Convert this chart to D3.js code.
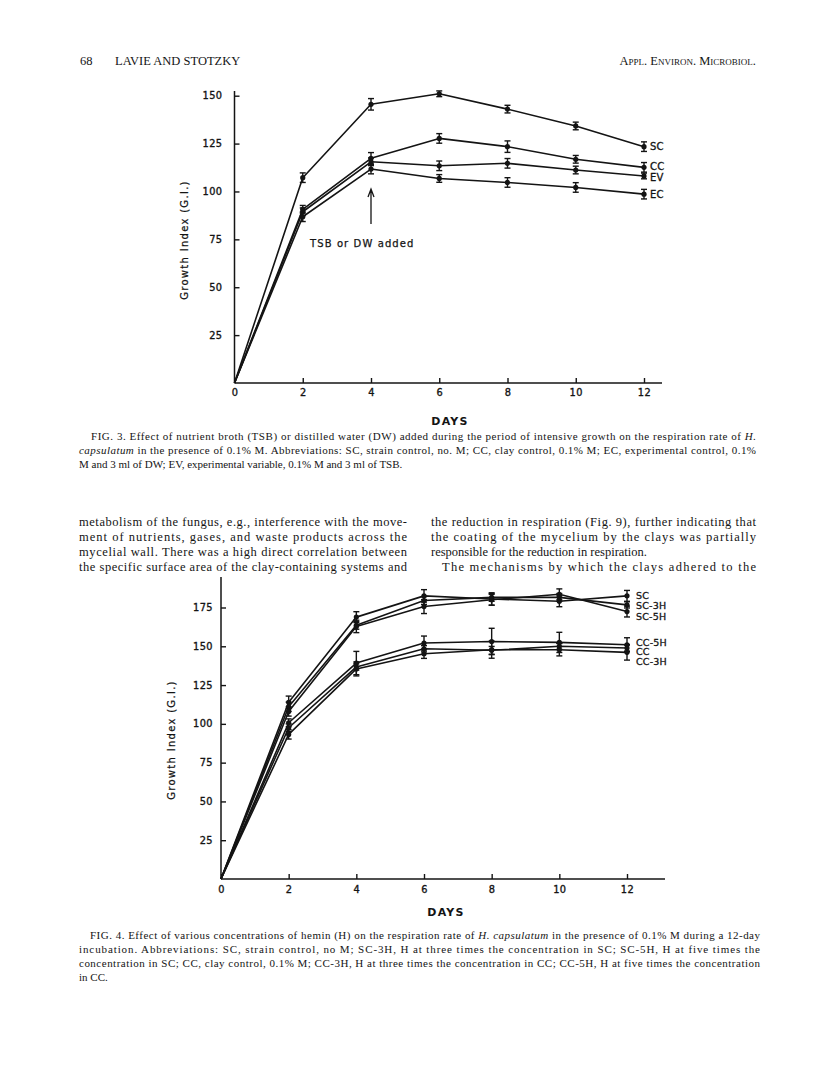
<!DOCTYPE html>
<html><head><meta charset="utf-8">
<script src="https://cdn.jsdelivr.net/npm/d3@7"></script>
<style>body{margin:0;background:#fff}svg{display:block}</style>
</head><body>
<svg id="page" width="816" height="1077"></svg>
<script>
// ---------- DATA ----------
const days = [0, 2, 4, 6, 8, 10, 12];
const xTickLabels = ["0", "2", "4", "6", "8", "10", "12"];

// Fig. 3
const fig3Names = ["SC", "CC", "EV", "EC"];
const fig3_SC = [0, 107.2, 145.5, 151.0, 143.0, 134.2, 123.4];
const fig3_CC = [0, 90.7, 117.3, 127.7, 123.4, 116.8, 112.6];
const fig3_EV = [0, 89.4, 115.5, 113.4, 114.7, 111.2, 108.1];
const fig3_EC = [0, 86.8, 111.7, 106.8, 104.7, 102.1, 98.6];
const fig3_SC_err = [0, 2.5, 3.0, 1.5, 2.0, 2.0, 2.5];
const fig3_CC_err = [0, 2.0, 3.0, 2.5, 3.0, 2.0, 2.5];
const fig3_EV_err = [0, 2.0, 2.0, 2.5, 2.5, 2.0, 1.5];
const fig3_EC_err = [0, 2.5, 2.5, 2.0, 2.5, 2.5, 2.5];
const fig3YTicks = [25, 50, 75, 100, 125, 150];

// Fig. 4
const fig4Names = ["SC", "SC-3H", "SC-5H", "CC-5H", "CC", "CC-3H"];
const fig4_SC   = [0, 113.9, 168.8, 182.5, 180.5, 179.0, 182.5];
const fig4_SC3H = [0, 111.0, 163.5, 179.5, 181.5, 181.5, 176.7];
const fig4_SC5H = [0, 108.0, 162.8, 175.6, 180.0, 183.5, 172.4];
const fig4_CC5H = [0, 100.7, 139.2, 152.1, 153.1, 152.5, 151.0];
const fig4_CC   = [0, 97.5, 136.7, 148.4, 147.4, 150.0, 148.9];
const fig4_CC3H = [0, 93.2, 135.4, 145.2, 147.8, 147.8, 146.1];
const fig4_SC_err   = [0, 4.0, 3.5, 4.0, 4.0, 3.5, 3.5];
const fig4_SC3H_err = [0, 3.0, 2.5, 2.5, 2.5, 2.5, 2.0];
const fig4_SC5H_err = [0, 3.0, 4.0, 4.5, 3.5, 3.5, 3.5];
const fig4_CC5H_err = [0, 2.5, 7.5, 4.5, 8.5, 6.5, 4.5];
const fig4_CC_err   = [0, 2.5, 2.0, 2.0, 2.5, 2.0, 2.0];
const fig4_CC3H_err = [0, 3.0, 4.5, 3.0, 5.5, 4.0, 5.0];
const fig4YTicks = [25, 50, 75, 100, 125, 150, 175];

// ---------- LAYOUT ----------
const svg = d3.select("#page");
const INK = "#141414";
const fig3Series = [
  {name: "SC", v: fig3_SC, e: fig3_SC_err},
  {name: "CC", v: fig3_CC, e: fig3_CC_err},
  {name: "EV", v: fig3_EV, e: fig3_EV_err},
  {name: "EC", v: fig3_EC, e: fig3_EC_err}];
const fig4Series = [
  {name: "SC", v: fig4_SC, e: fig4_SC_err},
  {name: "SC-3H", v: fig4_SC3H, e: fig4_SC3H_err},
  {name: "SC-5H", v: fig4_SC5H, e: fig4_SC5H_err},
  {name: "CC-5H", v: fig4_CC5H, e: fig4_CC5H_err},
  {name: "CC", v: fig4_CC, e: fig4_CC_err},
  {name: "CC-3H", v: fig4_CC3H, e: fig4_CC3H_err}];
// pixel nudges for the stacked end labels
const fig3LabelNudge = [0, -1, 1, 0];
const fig4LabelNudge = [0, 1, 5, -2.5, 3.5, 9];

function drawChart(cfg) {
  const g = svg.append("g");
  const x = d3.scaleLinear().domain([0, 12]).range([cfg.x0, cfg.x12]);
  const y = d3.scaleLinear().domain([0, cfg.yMax]).range([cfg.y0, cfg.yMaxPx]);

  g.append("line").attr("x1", cfg.x0).attr("x2", cfg.xEnd).attr("y1", cfg.y0).attr("y2", cfg.y0)
    .attr("stroke", INK).attr("stroke-width", 1.7);
  g.append("line").attr("x1", cfg.x0).attr("x2", cfg.x0).attr("y1", cfg.y0).attr("y2", cfg.yTop)
    .attr("stroke", INK).attr("stroke-width", 1.5);

  const ya = d3.axisLeft(y).tickValues(cfg.yTicks).tickSize(-5).tickPadding(cfg.yPad).tickFormat(d3.format("d"));
  const yg = g.append("g").attr("transform", `translate(${cfg.x0},0)`).call(ya);
  yg.select(".domain").remove();
  const xa = d3.axisBottom(x).tickValues(days).tickSize(-5).tickPadding(cfg.xPad)
    .tickFormat((d, i) => xTickLabels[i]);
  const xg = g.append("g").attr("transform", `translate(0,${cfg.y0})`).call(xa);
  xg.select(".domain").remove();
  [yg, xg].forEach(a => {
    a.selectAll("line").attr("stroke", INK).attr("stroke-width", 1.4);
    a.selectAll("text").attr("fill", INK).attr("font-family", "DejaVu Sans")
      .attr("font-size", 9.8).attr("letter-spacing", 0.4)
      .attr("stroke", INK).attr("stroke-width", 0.35);
  });

  g.append("text").attr("transform", `translate(${cfg.yTitleX},${cfg.yTitleY}) rotate(-90)`)
    .attr("text-anchor", "middle").attr("font-family", "DejaVu Sans").attr("font-size", 10)
    .attr("letter-spacing", 1.3).attr("fill", INK).attr("stroke", INK).attr("stroke-width", 0.25)
    .text("Growth Index (G.I.)");
  g.append("text").attr("x", cfg.daysX).attr("y", cfg.daysY).attr("text-anchor", "middle")
    .attr("font-family", "DejaVu Sans").attr("font-weight", "bold").attr("font-size", 11)
    .attr("letter-spacing", 1.2).attr("fill", INK).text("DAYS");

  const line = d3.line().x((d, i) => x(days[i])).y(d => y(d));
  cfg.series.forEach((s, si) => {
    g.append("path").attr("d", line(s.v)).attr("fill", "none").attr("stroke", INK)
      .attr("stroke-width", 1.6).attr("stroke-linejoin", "round");
    const pts = s.v.map((v, i) => ({d: days[i], v, e: s.e[i]})).filter(p => p.d > 0);
    const eb = g.append("g");
    pts.forEach(p => {
      const cx = x(p.d);
      eb.append("line").attr("x1", cx).attr("x2", cx).attr("y1", y(p.v - p.e)).attr("y2", y(p.v + p.e))
        .attr("stroke", INK).attr("stroke-width", 1.4);
      [p.v - p.e, p.v + p.e].forEach(w => eb.append("line").attr("x1", cx - 3).attr("x2", cx + 3)
        .attr("y1", y(w)).attr("y2", y(w)).attr("stroke", INK).attr("stroke-width", 1.4));
      eb.append("circle").attr("cx", cx).attr("cy", y(p.v)).attr("r", 2.6).attr("fill", INK);
    });
    const last = s.v[s.v.length - 1];
    g.append("text").attr("x", x(12) + cfg.labelDx).attr("y", y(last) + cfg.nudge[si])
      .attr("dy", "0.36em").attr("font-family", "DejaVu Sans").attr("font-size", cfg.labelSize)
      .attr("letter-spacing", 0.2).attr("fill", INK).attr("stroke", INK).attr("stroke-width", 0.3)
      .text(s.name);
  });
  return {x, y, g};
}

// Fig. 3 chart
const c3 = drawChart({series: fig3Series, x0: 234.5, x12: 644, xEnd: 662, y0: 383, yMax: 150, yMaxPx: 95.7,
  yTop: 91, yTicks: fig3YTicks, yPad: 12, xPad: 6.5, yTitleX: 188, yTitleY: 240,
  daysX: 450, daysY: 425, labelDx: 6, labelSize: 10, nudge: fig3LabelNudge});
{
  const ax = c3.x(4);
  c3.g.append("path").attr("d", `M${ax},224 L${ax},189 M${ax - 3},197 L${ax},189 L${ax + 3},197`)
    .attr("fill", "none").attr("stroke", INK).attr("stroke-width", 1.3);
  c3.g.append("text").attr("x", 310).attr("y", 247).attr("font-family", "DejaVu Sans").attr("font-size", 10)
    .attr("letter-spacing", 1.1).attr("fill", INK).attr("stroke", INK).attr("stroke-width", 0.25)
    .text("TSB or DW added");
}

// Fig. 4 chart
drawChart({series: fig4Series, x0: 221, x12: 627, xEnd: 665, y0: 879, yMax: 175, yMaxPx: 607.5,
  yTop: 577, yTicks: fig4YTicks, yPad: 8, xPad: 7, yTitleX: 175, yTitleY: 740,
  daysX: 446, daysY: 916, labelDx: 9, labelSize: 9.5, nudge: fig4LabelNudge});

// ---------- PAGE TEXT ----------
function textLine(x, y, parts, size, opts = {}) {
  const t = svg.append("text").attr("x", x).attr("y", y).attr("font-family", "Liberation Serif")
    .attr("font-size", size).attr("fill", INK);
  if (opts.width) t.attr("textLength", opts.width).attr("lengthAdjust", "spacing");
  if (opts.anchor) t.attr("text-anchor", opts.anchor);
  if (opts.variant) t.attr("font-variant", opts.variant);
  (Array.isArray(parts) ? parts : [parts]).forEach(p => {
    if (typeof p === "string") t.append("tspan").text(p);
    else t.append("tspan").attr("font-style", "italic").text(p.i);
  });
}
const L = 79, R = 756;
textLine(L + 1, 65, "68", 12.5);
textLine(115, 65, "LAVIE AND STOTZKY", 12.5);
textLine(R, 65, "Appl. Environ. Microbiol.", 12.5, {anchor: "end", variant: "small-caps"});

textLine(91, 440, ["FIG. 3. Effect of nutrient broth (TSB) or distilled water (DW) added during the period of intensive growth on the respiration rate of ", {i: "H."}], 11, {width: R - 91});
textLine(L, 454, [{i: "capsulatum"}, " in the presence of 0.1% M. Abbreviations: SC, strain control, no. M; CC, clay control, 0.1% M; EC, experimental control, 0.1%"], 11, {width: R - L});
textLine(L, 468, "M and 3 ml of DW; EV, experimental variable, 0.1% M and 3 ml of TSB.", 11);

textLine(L, 526, "metabolism of the fungus, e.g., interference with the move-", 12.5, {width: 407 - L});
textLine(L, 541, "ment of nutrients, gases, and waste products across the", 12.5, {width: 407 - L});
textLine(L, 556, "mycelial wall. There was a high direct correlation between", 12.5, {width: 407 - L});
textLine(L, 571, "the specific surface area of the clay-containing systems and", 12.5, {width: 407 - L});
textLine(431, 526, "the reduction in respiration (Fig. 9), further indicating that", 12.5, {width: R - 431});
textLine(431, 541, "the coating of the mycelium by the clays was partially", 12.5, {width: R - 431});
textLine(431, 556, "responsible for the reduction in respiration.", 12.5);
textLine(442, 571, "The mechanisms by which the clays adhered to the", 12.5, {width: R - 442});

textLine(90, 939, ["FIG. 4. Effect of various concentrations of hemin (H) on the respiration rate of ", {i: "H. capsulatum"}, " in the presence of 0.1% M during a 12-day"], 11, {width: R + 4 - 90});
textLine(L, 953, "incubation. Abbreviations: SC, strain control, no M; SC-3H, H at three times the concentration in SC; SC-5H, H at five times the", 11, {width: R + 4 - L});
textLine(L, 967, "concentration in SC; CC, clay control, 0.1% M; CC-3H, H at three times the concentration in CC; CC-5H, H at five times the concentration", 11, {width: R + 4 - L});
textLine(L, 981, "in CC.", 11);
</script>
</body></html>
